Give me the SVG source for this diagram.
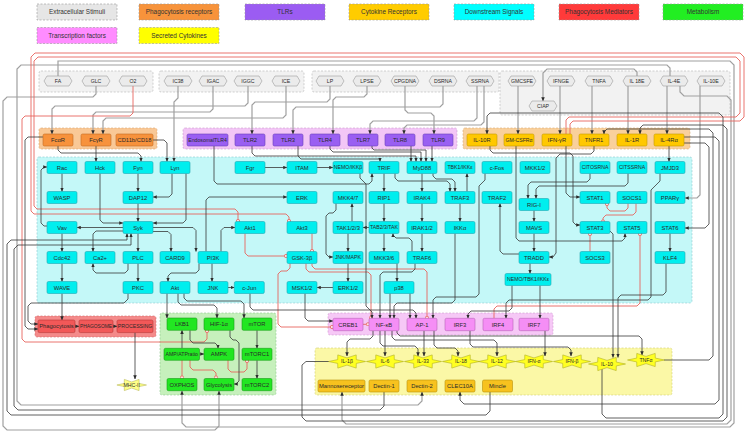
<svg xmlns="http://www.w3.org/2000/svg" width="747" height="433" viewBox="0 0 747 433">
<defs>
<style>
text{font-family:"Liberation Sans",Arial,sans-serif;font-size:5.8px;fill:#2a2a2a;text-anchor:middle}
.lg text{font-size:6.4px;fill:#333}
.sm{font-size:5.2px}
.xs{font-size:4.9px}
.bg{stroke-width:.6;stroke-dasharray:2 1.5}
.g-st{fill:#f2f2f2;stroke:#b4b4b4}
.g-pr{fill:#f9c896;stroke:#d9a470}
.g-tl{fill:#f3c6f6;stroke:#c99acb}
.g-cr{fill:#f9d09c;stroke:#d6a872}
.g-ds{fill:#c4f8f8;stroke:#8cc8cc}
.g-pm{fill:#f48a8a;stroke:#d06a6a}
.g-mt{fill:#c6f0bc;stroke:#8cc88c}
.g-tf{fill:#f6c8f6;stroke:#cc9acc}
.g-sc{fill:#fbf8a6;stroke:#d0cc70}
.nd rect,.nd use{stroke-width:.6}
.ds rect{fill:#00eeee;stroke:#20a8b4}
.pr rect{fill:#f7923c;stroke:#c46c24}
.tl rect{fill:#9a5ff2;stroke:#6a3fb8}
.cr rect{fill:#ffc800;stroke:#c49a00}
.pm rect{fill:#f25858;stroke:#b83838}
.mt rect{fill:#22e622;stroke:#1a9e1a}
.tf rect{fill:#f58ef5;stroke:#b865b8}
.ob rect{fill:#f7c21e;stroke:#b8900a}
.sk use{fill:#ffff22;stroke:#b0b020}
.hx use{fill:#ebebeb;stroke:#9a9a9a}
.k{fill:none;stroke:#383838;stroke-width:.8;marker-end:url(#ar)}
.g{fill:none;stroke:#a0a0a0;stroke-width:1.2;marker-end:url(#ar)}
.r{fill:none;stroke:#e8645e;stroke-width:.9;marker-end:url(#ci)}
</style>
<marker id="ar" viewBox="0 0 8 8" refX="7.5" refY="4" markerWidth="4" markerHeight="4" markerUnits="userSpaceOnUse" orient="auto"><path d="M0,0.5 L8,4 L0,7.5Z" fill="#2b2b2b"/></marker>
<marker id="ci" viewBox="0 0 8 8" refX="4" refY="4" markerWidth="4.4" markerHeight="4.4" markerUnits="userSpaceOnUse"><circle cx="4" cy="4" r="3" fill="#fbe3e3" stroke="#e8645e" stroke-width="1.4"/></marker>
<path id="hex" d="M-11,-5 H11 L14,0 L11,5 H-11 L-14,0Z"/>
<path id="star" d="M18.5,0 L9.3,1.9 L9.2,6.6 L0,3.6 L-9.2,6.6 L-9.3,1.9 L-18.5,0 L-9.3,-1.9 L-9.2,-6.6 L0,-3.6 L9.2,-6.6 L9.3,-1.9Z"/>
</defs>
<rect width="747" height="433" fill="#ffffff"/>

<!-- legend -->
<g id="legend" class="lg">
<g id="lg-ext"><rect class="bg" x="37" y="4" width="80" height="16" fill="#e6e6e6" stroke="#999"/><text x="77" y="14.3">Extracellular Stimuli</text></g>
<g id="lg-phr"><rect class="bg" x="139" y="4" width="80" height="16" fill="#f7933b" stroke="#999"/><text x="179" y="14.3">Phagocytosis receptors</text></g>
<g id="lg-tlr"><rect class="bg" x="245" y="4" width="80" height="16" fill="#9b5cf2" stroke="#999"/><text x="285" y="14.3">TLRs</text></g>
<g id="lg-cyr"><rect class="bg" x="349" y="4" width="80" height="16" fill="#ffcc00" stroke="#999"/><text x="389" y="14.3">Cytokine Receptors</text></g>
<g id="lg-dss"><rect class="bg" x="454" y="4" width="80" height="16" fill="#00ffff" stroke="#999"/><text x="494" y="14.3">Downstream Signals</text></g>
<g id="lg-phm"><rect class="bg" x="559" y="4" width="80" height="16" fill="#ff3a3a" stroke="#999"/><text x="599" y="14.3">Phagocytosis Mediators</text></g>
<g id="lg-met"><rect class="bg" x="663" y="4" width="80" height="16" fill="#22ee22" stroke="#999"/><text x="703" y="14.3">Metabolism</text></g>
<g id="lg-tf"><rect class="bg" x="37" y="27.5" width="80" height="16" fill="#ff8cff" stroke="#999"/><text x="77" y="37.8">Transcription factors</text></g>
<g id="lg-sec"><rect class="bg" x="139" y="27.5" width="80" height="16" fill="#ffff00" stroke="#999"/><text x="179" y="37.8">Secreted Cytokines</text></g>
</g>

<!-- compartment backgrounds -->
<g id="compartments">
<rect class="bg g-st" x="39" y="71" width="114" height="21" rx="2"/>
<rect class="bg g-st" x="159" y="71" width="145" height="21" rx="2"/>
<rect class="bg g-st" x="312" y="71" width="187" height="21" rx="2"/>
<rect class="bg g-st" x="500" y="71" width="230" height="44" rx="2"/>
<rect class="bg g-pr" x="39" y="128" width="118" height="21" rx="2"/>
<rect class="bg g-tl" x="183" y="128" width="274" height="21" rx="2"/>
<rect class="bg g-cr" x="463" y="128" width="227" height="21" rx="2"/>
<rect class="bg g-ds" x="37" y="157" width="655" height="146" rx="2"/>
<rect class="bg g-pm" x="35" y="316" width="121" height="21" rx="2"/>
<rect class="bg g-mt" x="160" y="313" width="116" height="82" rx="2"/>
<rect class="bg g-tf" x="328" y="313" width="225" height="22" rx="2"/>
<rect class="bg g-sc" x="315" y="348" width="357" height="47" rx="2"/>
</g>

<!-- connectors -->
<g id="connectors">
<!-- stimuli to receptors and long feeds -->
<path class="g" d="M58 76 V61 H730 L734 65 V423 L730 427 H186 L182 423 V391"/>
<path class="g" d="M96 86 V94 L93 97 H7 L3 101 V426 L7 430 H215 L219 426 V391"/>
<path class="g" d="M213 86 V109 L210 112 H96 L93 115 V134"/>
<path class="g" d="M248 86 V103 L245 106 H55 L52 109 V134"/>
<path class="g" d="M286 86 V115 L283 118 H106 L103 121 V134"/>
<path class="g" d="M178 86 V98 L174 102 V161.5"/>
<path class="g" d="M330 86 V99 L327 102 H255 L252 105 V134"/>
<path class="g" d="M367 86 V94 L364 97 H336 L333 100 V134"/>
<path class="g" d="M405 86 V110 L408 113 H431 L434 116 V134"/>
<path class="g" d="M443 86 V104 L440 107 H296 L293 110 V134"/>
<path class="g" d="M477 86 V118 L474 121 H373 L370 124 V134"/>
<path class="g" d="M484 86 V122 L481 125 H407 L404 128 V134"/>
<path class="g" d="M518 86 V134"/>
<path class="g" d="M560 86 V134"/>
<path class="g" d="M592 86 V134"/>
<path class="g" d="M628 86 V134"/>
<path class="g" d="M667 86 V134"/>
<path class="g" d="M700 86 V195 L697 198 H685"/>
<path class="g" d="M637 76 V72 L634 69 H547 L543 73 V101"/>
<path class="g" d="M670 76 V68 L667 65 H21 L17 69 V401 L21 405 H418 L422 401 V392"/>
<path class="g" d="M680 86 V92 L684 96 H727 L731 100 V420 L727 424 H346 L342 420 V392"/>
<!-- inhibitory links -->
<path class="r" d="M133 86 V113 L130 116 H25 L22 119 V339 L25 342 H204 L207 339 V331"/>
<path class="r" d="M566 134 V120 L569 117 H736 L740 113 V61 L736 57 H38 L34 61 V206 L37 209 H235 L238 212 V221"/>
<path class="r" d="M570 134 V124 L573 121 H740 L744 117 V57 L740 53 H35 L31 57 V211 L34 214 H286 L289 217 V221"/>
<path class="r" d="M312 233.5 V251"/>
<path class="r" d="M245 233.5 V253 L248 256 H286"/>
<path class="r" d="M290 263.5 V268 L287 271 H281 L278 274 V324 L281 327 H332"/>
<path class="r" d="M306 263.5 V269 L309 272 H368 L371 275 V317.8"/>
<path class="r" d="M312 263.5 V266 L315 269 H424 L427 272 V317.8"/>
<path class="r" d="M363 324.3 H368"/>
<path class="r" d="M590 251.5 V234"/>
<path class="r" d="M628 203.5 V208 L625 211 H610 L607 208 V204"/>
<path class="r" d="M636 203.5 V212 L633 215 H606 L603 218 V221.5"/>
<path class="r" d="M494 318.3 V309 L497 306 H637 L640 303 V234"/>
<path class="r" d="M182 360 V377.5"/>
<path class="r" d="M190 360 V367 L193 370 H213 L216 373 V377.5"/>
<path class="r" d="M228 360 V369 L231 372 H244 L247 369 V361"/>
<!-- signalling links -->
<path class="k" d="M62 173.5 V191.5"/>
<path class="k" d="M47 226 H44 L41 223 V170 L44 167 H47"/>
<path class="k" d="M123 227.5 H77"/>
<path class="k" d="M62 233.5 V251.5"/>
<path class="k" d="M62 263.5 V281.5"/>
<path class="k" d="M62 293.5 V320"/>
<path class="k" d="M138 233.5 V251.5"/>
<path class="k" d="M138 263.5 V281.5"/>
<path class="k" d="M123 231 H96 L93 234 V251.5"/>
<path class="k" d="M128 263.5 V270 L125 273 H96 L93 270 V263.5"/>
<path class="k" d="M153 227.5 H193 L196 230.5 V251.5"/>
<path class="k" d="M153 231.5 H168 L171 234.5 V251.5"/>
<path class="k" d="M138 203.5 V221.5"/>
<path class="k" d="M138 173.5 V191.5"/>
<path class="k" d="M172 173.5 V194 L169 197 H153"/>
<path class="k" d="M100 173.5 V220 L103 223 H123"/>
<path class="k" d="M186 173.5 V220 L183 223 H153"/>
<path class="k" d="M58 146 V150 L61 153 H138 L141 156 V161.5"/>
<path class="k" d="M96 146 V161.5"/>
<path class="k" d="M153 140 H164 L167 143 V161.5"/>
<path class="k" d="M214 146 V181 L217 184 H369 L372 181 V173.5"/>
<path class="k" d="M265 167.5 H287"/>
<path class="k" d="M317 167.5 H333"/>
<path class="k" d="M252 146 V153 L255 156 H416 V161.5"/>
<path class="k" d="M330 146 V149 L333 152 H421 V161.5"/>
<path class="k" d="M372 146 V148 L374 150 H426 V161.5"/>
<path class="k" d="M411 146 V161.5"/>
<path class="k" d="M432 146 V161.5"/>
<path class="k" d="M298 146 V156 L301 159 H380 V161.5"/>
<path class="k" d="M384 173.5 V191.5"/>
<path class="k" d="M422 173.5 V191.5"/>
<path class="k" d="M422 203.5 V221.5"/>
<path class="k" d="M422 233.5 V251.5"/>
<path class="k" d="M395 173.5 V178 L398 181 H447 L450 184 V191.5"/>
<path class="k" d="M433 173.5 V176 L436 179 H452 L455 182 V191.5"/>
<path class="k" d="M467 191.5 V173.5"/>
<path class="k" d="M460 203.5 V221.5"/>
<path class="k" d="M384 203.5 V221.5"/>
<path class="k" d="M384 233.5 V251.5"/>
<path class="k" d="M348 233.5 V251.5"/>
<path class="k" d="M352 221.5 V203.5"/>
<path class="k" d="M369 227.5 H363"/>
<path class="k" d="M336 203.5 V210 L333 213 H329 L326 216 V254 L329 257 H333"/>
<path class="k" d="M397 263.5 V281.5"/>
<path class="k" d="M348 263.5 V281.5"/>
<path class="k" d="M333 287.5 H317"/>
<path class="k" d="M305 293.5 V318 L308 321 H333"/>
<path class="k" d="M390 293.5 V318.3"/>
<path class="k" d="M410 293.5 V318.3"/>
<path class="k" d="M199 263.5 V270 L196 273 H171 L168 276 V281.5"/>
<path class="k" d="M212 263.5 V281.5"/>
<path class="k" d="M221 251.5 V230.5 L224 227.5 H235"/>
<path class="k" d="M206 251.5 V200 L209 197 H287"/>
<path class="k" d="M227.7 287.5 H234.3"/>
<path class="k" d="M250 293.5 V307 L253 310 H413 L416 313 V318.3"/>
<path class="k" d="M485 173.5 V180 L479 186 V294 L476 297 H436 L433 300 V318.3"/>
<path class="k" d="M360 173.5 V178 L366 184 V306 L372 312 V318.3"/>
<path class="k" d="M415 263.5 V269 L412 272 H383 L380 275 V318.3"/>
<path class="k" d="M455 233.5 V300 L452 303 H397 L394 306 V318.3"/>
<path class="k" d="M412 251.5 V241 L409 238 H396 L393 235 V233.5"/>
<path class="k" d="M590 173.5 V179 L587 182 H531 L528 185 V198.5"/>
<path class="k" d="M628 173.5 V183 L625 186 H539 L536 189 V198.5"/>
<path class="k" d="M534 210.5 V221.5"/>
<path class="k" d="M534 233.5 V251.5"/>
<path class="k" d="M530 263.5 V273.5"/>
<path class="k" d="M519 254 H503 L500 251 V203.5"/>
<path class="k" d="M512 285.5 V308 L509 311 H471 L468 314 V318.3"/>
<path class="k" d="M540 285.5 V318.3"/>
<path class="k" d="M594 146 V151 L591 154 H560 L556 158 V253 L553 257 H549"/>
<path class="k" d="M566 146 V193 L570 197 H580"/>
<path class="k" d="M490 146 V150 L493 153 H570 L573 156 V222 L576 225 H580"/>
<path class="k" d="M516 146 V238 L519 241 H622 L625 238 V233.5"/>
<path class="k" d="M669 146 V161.5"/>
<path class="k" d="M684 143 H705 L709 147 V224 L705 228 H685"/>
<path class="k" d="M684 137 H715 L719 141 V400 L715 404 H464 L460 400 V392"/>
<path class="k" d="M670 233.5 V251.5"/>
<path class="k" d="M660 173.5 V181 L651 190 V297 L648 300 H509 L506 303 V318.3"/>
<path class="k" d="M666 263.5 V292 L663 295 H621 L618 298 V357.5"/>
<path class="k" d="M610 231 L613 234 V357.5"/>
<path class="k" d="M373 330.7 V336 L370 339 H350 L347 342 V356"/>
<path class="k" d="M385 330.7 V356"/>
<path class="k" d="M380 330.7 V343 L383 346 H415 L418 349 V356"/>
<path class="k" d="M392 330.7 V337 L395 340 H494 L497 343 V356"/>
<path class="k" d="M397 330.7 V333 L400 336 H639 L642 339 V355"/>
<path class="k" d="M424 330.7 V356"/>
<path class="k" d="M434 330.7 V345 L437 348 H455 L458 351 V356"/>
<path class="k" d="M470 330.7 V344 L473 347 H568 L571 350 V356"/>
<path class="k" d="M545 330.7 V356"/>
<path class="k" d="M75 326.3 H79"/>
<path class="k" d="M113 326.3 H117"/>
<path class="k" d="M135 332.6 V379"/>
<path class="k" d="M128 293.5 V299 L124 303 H31 L28 306 V321 L31 324 H38"/>
<path class="k" d="M43 137 H28 L25 140 V326 L28 329 H38"/>
<path class="k" d="M167 293.5 V318"/>
<path class="k" d="M178 293.5 V302 L181 305 H214 L217 308 V318"/>
<path class="k" d="M184 293.5 V298 L187 301 H241 L244 304 V318"/>
<path class="k" d="M182 348.3 V330.3"/>
<path class="k" d="M190 330.3 V340 L193 343 H215 L218 346 V348.3"/>
<path class="k" d="M199.5 354 H204"/>
<path class="k" d="M230 330.3 V337 L233 340 H236 L239 343 V381 L236 384 H234"/>
<path class="k" d="M257 330.3 V348.3"/>
<path class="k" d="M257 360.3 V378.5"/>
<path class="k" d="M329 361.5 H306 L302 365 V417 L306 421 H723 L727 417 V129 L723 125 H643 L640 128 V134"/>
<path class="k" d="M602 369 V414 L606 418 H719 L723 414 V117 L719 113 H490 L487 116 V134"/>
<path class="k" d="M664 360 H709 L713 356 V133 L709 129 H607 L604 132 V134"/>
<path class="k" d="M384 392 V406 L380 410 H18 L14 406 V249 L18 245 H131 V233.5"/>
<path class="k" d="M490 392 V411 L486 415 H11 L7 411 V244 L11 240 H127 V233.5"/>
</g>

<!-- extracellular stimuli -->
<g class="nd hx">
<g id="n-fa"><use href="#hex" x="58" y="81"/><text class="sm" x="58" y="82.9">FA</text></g>
<g id="n-glc"><use href="#hex" x="96" y="81"/><text class="sm" x="96" y="82.9">GLC</text></g>
<g id="n-o2"><use href="#hex" x="133" y="81"/><text class="sm" x="133" y="82.9">O2</text></g>
<g id="n-ic38"><use href="#hex" x="178" y="81"/><text class="sm" x="178" y="82.9">IC38</text></g>
<g id="n-igac"><use href="#hex" x="213" y="81"/><text class="sm" x="213" y="82.9">IGAC</text></g>
<g id="n-iggc"><use href="#hex" x="248" y="81"/><text class="sm" x="248" y="82.9">IGGC</text></g>
<g id="n-ice"><use href="#hex" x="286" y="81"/><text class="sm" x="286" y="82.9">ICE</text></g>
<g id="n-lp"><use href="#hex" x="330" y="81"/><text class="sm" x="330" y="82.9">LP</text></g>
<g id="n-lpse"><use href="#hex" x="367" y="81"/><text class="sm" x="367" y="82.9">LPSE</text></g>
<g id="n-cpgdna"><use href="#hex" x="405" y="81"/><text class="sm" x="405" y="82.9">CPGDNA</text></g>
<g id="n-dsrna"><use href="#hex" x="443" y="81"/><text class="sm" x="443" y="82.9">DSRNA</text></g>
<g id="n-ssrna"><use href="#hex" x="480" y="81"/><text class="sm" x="480" y="82.9">SSRNA</text></g>
<g id="n-gmcsfe"><use href="#hex" x="522" y="81"/><text class="sm" x="522" y="82.9">GMCSFE</text></g>
<g id="n-ifnge"><use href="#hex" x="561" y="81"/><text class="sm" x="561" y="82.9">IFNGE</text></g>
<g id="n-tnfa-e"><use href="#hex" x="599" y="81"/><text class="sm" x="599" y="82.9">TNFA</text></g>
<g id="n-il18e"><use href="#hex" x="637" y="81"/><text class="sm" x="637" y="82.9">IL 18E</text></g>
<g id="n-il4e"><use href="#hex" x="674" y="81"/><text class="sm" x="674" y="82.9">IL-4E</text></g>
<g id="n-il10e"><use href="#hex" x="711" y="81"/><text class="sm" x="711" y="82.9">IL-10E</text></g>
<g id="n-ciap"><use href="#hex" x="543" y="106"/><text class="sm" x="543" y="107.9">CIAP</text></g>
</g>

<!-- receptors -->
<g class="nd pr">
<g id="n-fcar"><rect x="43" y="134" width="30" height="12" rx="1.5"/><text x="58" y="142.1">FcαR</text></g>
<g id="n-fcgr"><rect x="81" y="134" width="30" height="12" rx="1.5"/><text x="96" y="142.1">FcγR</text></g>
<g id="n-cd11b"><rect x="116" y="134" width="37" height="12" rx="1.5"/><text x="134.5" y="142.1">CD11b/CD18</text></g>
</g>
<g class="nd tl">
<g id="n-etlr4"><rect x="187" y="134" width="41" height="12" rx="1.5"/><text class="sm" x="207.5" y="141.9">EndosomalTLR4</text></g>
<g id="n-tlr2"><rect x="235" y="134" width="30" height="12" rx="1.5"/><text x="250" y="142.1">TLR2</text></g>
<g id="n-tlr3"><rect x="273" y="134" width="30" height="12" rx="1.5"/><text x="288" y="142.1">TLR3</text></g>
<g id="n-tlr4"><rect x="310" y="134" width="30" height="12" rx="1.5"/><text x="325" y="142.1">TLR4</text></g>
<g id="n-tlr7"><rect x="348" y="134" width="30" height="12" rx="1.5"/><text x="363" y="142.1">TLR7</text></g>
<g id="n-tlr8"><rect x="385" y="134" width="30" height="12" rx="1.5"/><text x="400" y="142.1">TLR8</text></g>
<g id="n-tlr9"><rect x="423" y="134" width="30" height="12" rx="1.5"/><text x="438" y="142.1">TLR9</text></g>
</g>
<g class="nd cr">
<g id="n-il10r"><rect x="467" y="134" width="30" height="12" rx="1.5"/><text x="482" y="142.1">IL-10R</text></g>
<g id="n-gmcsfr"><rect x="504" y="134" width="30" height="12" rx="1.5"/><text class="sm" x="519" y="141.9">GM-CSFRα</text></g>
<g id="n-ifngr"><rect x="542" y="134" width="30" height="12" rx="1.5"/><text x="557" y="142.1">IFN-γR</text></g>
<g id="n-tnfr1"><rect x="579" y="134" width="30" height="12" rx="1.5"/><text x="594" y="142.1">TNFR1</text></g>
<g id="n-il1r"><rect x="617" y="134" width="30" height="12" rx="1.5"/><text x="632" y="142.1">IL-1R</text></g>
<g id="n-il4ra"><rect x="654" y="134" width="30" height="12" rx="1.5"/><text x="669" y="142.1">IL-4Rα</text></g>
</g>

<!-- downstream signals -->
<g class="nd ds">
<g id="n-rac"><rect x="47" y="161.5" width="30" height="12" rx="1.5"/><text x="62" y="169.6">Rac</text></g>
<g id="n-hck"><rect x="85" y="161.5" width="30" height="12" rx="1.5"/><text x="100" y="169.6">Hck</text></g>
<g id="n-fyn"><rect x="123" y="161.5" width="30" height="12" rx="1.5"/><text x="138" y="169.6">Fyn</text></g>
<g id="n-lyn"><rect x="160" y="161.5" width="30" height="12" rx="1.5"/><text x="175" y="169.6">Lyn</text></g>
<g id="n-fgr"><rect x="235" y="161.5" width="30" height="12" rx="1.5"/><text x="250" y="169.6">Fgr</text></g>
<g id="n-itam"><rect x="287" y="161.5" width="30" height="12" rx="1.5"/><text x="302" y="169.6">ITAM</text></g>
<g id="n-nemo-ikkb"><rect x="333" y="161.5" width="30" height="12" rx="1.5"/><text class="sm" x="348" y="169.4">NEMO/IKKβ</text></g>
<g id="n-trif"><rect x="369" y="161.5" width="30" height="12" rx="1.5"/><text x="384" y="169.6">TRIF</text></g>
<g id="n-myd88"><rect x="407" y="161.5" width="30" height="12" rx="1.5"/><text x="422" y="169.6">MyD88</text></g>
<g id="n-tbk1"><rect x="445" y="161.5" width="30" height="12" rx="1.5"/><text class="sm" x="460" y="169.4">TBK1/IKKε</text></g>
<g id="n-cfos"><rect x="482" y="161.5" width="30" height="12" rx="1.5"/><text x="497" y="169.6">c-Fos</text></g>
<g id="n-mkk12"><rect x="520" y="161.5" width="30" height="12" rx="1.5"/><text x="535" y="169.6">MKK1/2</text></g>
<g id="n-citosrna"><rect x="580" y="161.5" width="30" height="12" rx="1.5"/><text class="sm" x="595" y="169.4">CITOSRNA</text></g>
<g id="n-citssrna"><rect x="617" y="161.5" width="30" height="12" rx="1.5"/><text class="sm" x="632" y="169.4">CITSSRNA</text></g>
<g id="n-jmjd3"><rect x="655" y="161.5" width="30" height="12" rx="1.5"/><text x="670" y="169.6">JMJD3</text></g>

<g id="n-wasp"><rect x="47" y="191.5" width="30" height="12" rx="1.5"/><text x="62" y="199.6">WASP</text></g>
<g id="n-dap12"><rect x="123" y="191.5" width="30" height="12" rx="1.5"/><text x="138" y="199.6">DAP12</text></g>
<g id="n-erk"><rect x="287" y="191.5" width="30" height="12" rx="1.5"/><text x="302" y="199.6">ERK</text></g>
<g id="n-mkk47"><rect x="333" y="191.5" width="30" height="12" rx="1.5"/><text x="348" y="199.6">MKK4/7</text></g>
<g id="n-rip1"><rect x="369" y="191.5" width="30" height="12" rx="1.5"/><text x="384" y="199.6">RIP1</text></g>
<g id="n-irak4"><rect x="407" y="191.5" width="30" height="12" rx="1.5"/><text x="422" y="199.6">IRAK4</text></g>
<g id="n-traf3"><rect x="445" y="191.5" width="30" height="12" rx="1.5"/><text x="460" y="199.6">TRAF3</text></g>
<g id="n-traf2"><rect x="482" y="191.5" width="30" height="12" rx="1.5"/><text x="497" y="199.6">TRAF2</text></g>
<g id="n-rigi"><rect x="519" y="198.5" width="30" height="12" rx="1.5"/><text x="534" y="206.6">RIG-I</text></g>
<g id="n-stat1"><rect x="580" y="191.5" width="30" height="12" rx="1.5"/><text x="595" y="199.6">STAT1</text></g>
<g id="n-socs1"><rect x="617" y="191.5" width="30" height="12" rx="1.5"/><text x="632" y="199.6">SOCS1</text></g>
<g id="n-pparg"><rect x="655" y="191.5" width="30" height="12" rx="1.5"/><text x="670" y="199.6">PPARγ</text></g>

<g id="n-vav"><rect x="47" y="221.5" width="30" height="12" rx="1.5"/><text x="62" y="229.6">Vav</text></g>
<g id="n-syk"><rect x="123" y="221.5" width="30" height="12" rx="1.5"/><text x="138" y="229.6">Syk</text></g>
<g id="n-akt1"><rect x="235" y="221.5" width="30" height="12" rx="1.5"/><text x="250" y="229.6">Akt1</text></g>
<g id="n-akt3"><rect x="287" y="221.5" width="30" height="12" rx="1.5"/><text x="302" y="229.6">Akt3</text></g>
<g id="n-tak123"><rect x="333" y="221.5" width="30" height="12" rx="1.5"/><text x="348" y="229.6">TAK1/2/3</text></g>
<g id="n-tab"><rect x="369" y="221.5" width="30" height="12" rx="1.5"/><text class="sm" x="384" y="229.4">TAB2/3/TAK</text></g>
<g id="n-irak12"><rect x="407" y="221.5" width="30" height="12" rx="1.5"/><text x="422" y="229.6">IRAK1/2</text></g>
<g id="n-ikka"><rect x="445" y="221.5" width="30" height="12" rx="1.5"/><text x="460" y="229.6">IKKα</text></g>
<g id="n-mavs"><rect x="519" y="221.5" width="30" height="12" rx="1.5"/><text x="534" y="229.6">MAVS</text></g>
<g id="n-stat3"><rect x="580" y="221.5" width="30" height="12" rx="1.5"/><text x="595" y="229.6">STAT3</text></g>
<g id="n-stat5"><rect x="617" y="221.5" width="30" height="12" rx="1.5"/><text x="632" y="229.6">STAT5</text></g>
<g id="n-stat6"><rect x="655" y="221.5" width="30" height="12" rx="1.5"/><text x="670" y="229.6">STAT6</text></g>

<g id="n-cdc42"><rect x="47" y="251.5" width="30" height="12" rx="1.5"/><text x="62" y="259.6">Cdc42</text></g>
<g id="n-ca2"><rect x="85" y="251.5" width="30" height="12" rx="1.5"/><text x="100" y="259.6">Ca2+</text></g>
<g id="n-plc"><rect x="123" y="251.5" width="30" height="12" rx="1.5"/><text x="138" y="259.6">PLC</text></g>
<g id="n-card9"><rect x="160" y="251.5" width="30" height="12" rx="1.5"/><text x="175" y="259.6">CARD9</text></g>
<g id="n-pi3k"><rect x="198" y="251.5" width="30" height="12" rx="1.5"/><text x="213" y="259.6">PI3K</text></g>
<g id="n-gsk3b"><rect x="287" y="251.5" width="30" height="12" rx="1.5"/><text x="302" y="259.6">GSK-3β</text></g>
<g id="n-jnkmapk"><rect x="333" y="251.5" width="30" height="12" rx="1.5"/><text class="sm" x="348" y="259.4">JNK/MAPK</text></g>
<g id="n-mkk36"><rect x="369" y="251.5" width="30" height="12" rx="1.5"/><text x="384" y="259.6">MKK3/6</text></g>
<g id="n-traf6"><rect x="407" y="251.5" width="30" height="12" rx="1.5"/><text x="422" y="259.6">TRAF6</text></g>
<g id="n-tradd"><rect x="519" y="251.5" width="30" height="12" rx="1.5"/><text x="534" y="259.6">TRADD</text></g>
<g id="n-socs3"><rect x="580" y="251.5" width="30" height="12" rx="1.5"/><text x="595" y="259.6">SOCS3</text></g>
<g id="n-klf4"><rect x="655" y="251.5" width="30" height="12" rx="1.5"/><text x="670" y="259.6">KLF4</text></g>

<g id="n-wave"><rect x="47" y="281.5" width="30" height="12" rx="1.5"/><text x="62" y="289.6">WAVE</text></g>
<g id="n-pkc"><rect x="123" y="281.5" width="30" height="12" rx="1.5"/><text x="138" y="289.6">PKC</text></g>
<g id="n-akt"><rect x="160" y="281.5" width="30" height="12" rx="1.5"/><text x="175" y="289.6">Akt</text></g>
<g id="n-jnk"><rect x="198" y="281.5" width="30" height="12" rx="1.5"/><text x="213" y="289.6">JNK</text></g>
<g id="n-cjun"><rect x="234.3" y="281.5" width="30" height="12" rx="1.5"/><text x="249.3" y="289.6">c-Jun</text></g>
<g id="n-msk12"><rect x="287" y="281.5" width="30" height="12" rx="1.5"/><text x="302" y="289.6">MSK1/2</text></g>
<g id="n-erk12"><rect x="333" y="281.5" width="30" height="12" rx="1.5"/><text x="348" y="289.6">ERK1/2</text></g>
<g id="n-p38"><rect x="384" y="281.5" width="30" height="12" rx="1.5"/><text x="399" y="289.6">p38</text></g>
<g id="n-nemo-tbk1"><rect x="505" y="273.5" width="46" height="12" rx="1.5"/><text class="sm" x="528" y="281.4">NEMO/TBK1/IKKε</text></g>
</g>

<!-- phagocytosis mediators -->
<g class="nd pm">
<g id="n-phagocytosis"><rect x="38" y="320" width="37" height="12.6" rx="1.5"/><text x="56.5" y="328.4">Phagocytosis</text></g>
<g id="n-phagosome"><rect x="79" y="320" width="34" height="12.6" rx="1.5"/><text class="xs" x="96" y="328.1">PHAGOSOME</text></g>
<g id="n-processing"><rect x="117" y="320" width="36" height="12.6" rx="1.5"/><text class="sm" x="135" y="328.2">PROCESSING</text></g>
</g>
<g id="n-mhcii" class="nd"><use href="#star" x="0" y="0" transform="translate(131.7 385) scale(0.8 0.85)" fill="#ffff88" stroke="#b0b040" stroke-width="0.7"/><text class="sm" x="131.7" y="386.9">MHC-II</text></g>

<!-- metabolism -->
<g class="nd mt">
<g id="n-lkb1"><rect x="167" y="318" width="30" height="12.3" rx="1.5"/><text x="182" y="326.2">LKB1</text></g>
<g id="n-hif1a"><rect x="204" y="318" width="30" height="12.3" rx="1.5"/><text x="219" y="326.2">HIF-1α</text></g>
<g id="n-mtor"><rect x="242" y="318" width="30" height="12.3" rx="1.5"/><text x="257" y="326.2">mTOR</text></g>
<g id="n-ampatp"><rect x="164" y="348.3" width="35.5" height="12" rx="1.5"/><text class="sm" x="181.7" y="356.2">AMP/ATPratio</text></g>
<g id="n-ampk"><rect x="204" y="348.3" width="30" height="12" rx="1.5"/><text x="219" y="356.4">AMPK</text></g>
<g id="n-mtorc1"><rect x="242" y="348.3" width="30" height="12" rx="1.5"/><text x="257" y="356.4">mTORC1</text></g>
<g id="n-oxphos"><rect x="167" y="378.5" width="30" height="12.2" rx="1.5"/><text x="182" y="386.6">OXPHOS</text></g>
<g id="n-glycolysis"><rect x="204" y="378.5" width="30" height="12.2" rx="1.5"/><text x="219" y="386.6">Glycolysis</text></g>
<g id="n-mtorc2"><rect x="242" y="378.5" width="30" height="12.2" rx="1.5"/><text x="257" y="386.6">mTORC2</text></g>
</g>

<!-- transcription factors -->
<g class="nd tf">
<g id="n-creb1"><rect x="333" y="318.3" width="30" height="12.4" rx="1.5"/><text x="348" y="326.6">CREB1</text></g>
<g id="n-nfkb"><rect x="369" y="318.3" width="30" height="12.4" rx="1.5"/><text x="384" y="326.6">NF-κB</text></g>
<g id="n-ap1"><rect x="407" y="318.3" width="30" height="12.4" rx="1.5"/><text x="422" y="326.6">AP-1</text></g>
<g id="n-irf3"><rect x="445" y="318.3" width="30" height="12.4" rx="1.5"/><text x="460" y="326.6">IRF3</text></g>
<g id="n-irf4"><rect x="483" y="318.3" width="30" height="12.4" rx="1.5"/><text x="498" y="326.6">IRF4</text></g>
<g id="n-irf7"><rect x="519" y="318.3" width="30" height="12.4" rx="1.5"/><text x="534" y="326.6">IRF7</text></g>
</g>

<!-- secreted cytokines -->
<g class="nd sk">
<g id="n-il1b"><use href="#star" x="347" y="361.5"/><text class="sm" x="347" y="363.4">IL-1β</text></g>
<g id="n-il6"><use href="#star" x="385" y="361.5"/><text class="sm" x="385" y="363.4">IL-6</text></g>
<g id="n-il33"><use href="#star" x="423" y="361.5"/><text class="sm" x="423" y="363.4">IL-33</text></g>
<g id="n-il18"><use href="#star" x="461" y="361.5"/><text class="sm" x="461" y="363.4">IL-18</text></g>
<g id="n-il12"><use href="#star" x="497" y="361.5"/><text class="sm" x="497" y="363.4">IL-12</text></g>
<g id="n-ifna"><use href="#star" x="534" y="361.5"/><text class="sm" x="534" y="363.4">IFN-α</text></g>
<g id="n-ifnb"><use href="#star" x="572" y="361.5"/><text class="sm" x="572" y="363.4">IFN-β</text></g>
<g id="n-il10"><use href="#star" x="607" y="364"/><text class="sm" x="607" y="365.9">IL-10</text></g>
<g id="n-tnfa"><use href="#star" x="646" y="360"/><text class="sm" x="646" y="361.9">TNFα</text></g>
</g>
<g class="nd ob">
<g id="n-mannose"><rect x="318" y="380" width="47" height="12" rx="1.5"/><text x="341.5" y="388.1">Mannosereceptor</text></g>
<g id="n-dectin1"><rect x="369" y="380" width="30" height="12" rx="1.5"/><text x="384" y="388.1">Dectin-1</text></g>
<g id="n-dectin2"><rect x="407" y="380" width="30" height="12" rx="1.5"/><text x="422" y="388.1">Dectin-2</text></g>
<g id="n-clec10a"><rect x="445" y="380" width="30" height="12" rx="1.5"/><text x="460" y="388.1">CLEC10A</text></g>
<g id="n-mincle"><rect x="482.5" y="380" width="30" height="12" rx="1.5"/><text x="497.5" y="388.1">Mincle</text></g>
</g>
</svg>
